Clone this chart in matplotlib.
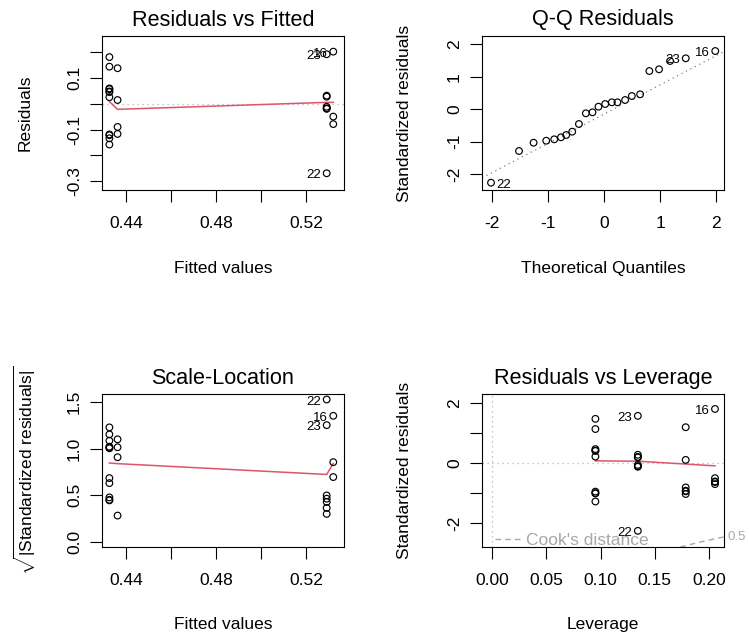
import numpy as np
import matplotlib.pyplot as plt
from matplotlib.transforms import blended_transform_factory

plt.rcParams['font.family'] = ['Liberation Sans', 'DejaVu Sans']
plt.rcParams['mathtext.fontset'] = 'custom'
plt.rcParams['mathtext.rm'] = 'Liberation Sans'
plt.rcParams['mathtext.it'] = 'Liberation Sans:italic'
plt.rcParams['axes.unicode_minus'] = False

# Residuals vs Fitted
rvf_fitted = [0.43258] * 11 + [0.43622] * 4 + [0.5292] * 7 + [0.53213] * 3
rvf_resid = [0.180, 0.143, 0.059, 0.056, 0.047, 0.045, 0.025, -0.119, -0.122, -0.134, -0.158,
             0.137, 0.014, -0.090, -0.117,
             0.191, 0.031, 0.027, -0.012, -0.018, -0.020, -0.269,
             0.201, -0.050, -0.079]
rvf_ids = [''] * 15 + ['23', '', '', '', '', '', '22'] + ['16', '', '']
rvf_smooth_x = [0.43258, 0.43622, 0.5292, 0.53213]
rvf_smooth_y = [0.008, -0.022, 0.005, 0.005]

# Q-Q Residuals
qq_theoretical = [-2.018, -1.518, -1.258, -1.032, -0.889, -0.769, -0.675, -0.568, -0.448,
                  -0.324, -0.206, -0.099, 0.021, 0.140, 0.240, 0.377, 0.497, 0.645,
                  0.810, 0.983, 1.18, 1.46, 1.987]
qq_std = [-2.268, -1.29, -1.035, -0.973, -0.930, -0.868, -0.797, -0.695, -0.458,
          -0.128, -0.097, 0.076, 0.159, 0.211, 0.211, 0.282, 0.405, 0.458,
          1.176, 1.229, 1.485, 1.568, 1.793]
qq_ids = ['22'] + [''] * 20 + ['23', '16']
qq_line_intercept = -0.154
qq_line_slope = 0.902

# Scale-Location
sl_fitted = [0.43258] * 11 + [0.43622] * 4 + [0.5292] * 7 + [0.53213] * 3
sl_root = [1.227, 1.152, 1.084, 1.020, 1.003, 1.010, 0.683, 0.629, 0.476, 0.444, 0.450,
           1.099, 1.014, 0.907, 0.281,
           1.526, 1.251, 0.497, 0.462, 0.427, 0.363, 0.299,
           1.351, 0.854, 0.694]
sl_ids = [''] * 15 + ['22', '23', '', '', '', '', ''] + ['16', '', '']
sl_smooth_x = [0.43258, 0.43622, 0.5292, 0.53213]
sl_smooth_y = [0.845, 0.838, 0.722, 0.84]

# Residuals vs Leverage
rvl_leverage = [0.0953] * 10 + [0.1344] * 8 + [0.1785] * 6 + [0.2055] * 5
rvl_std = [1.48, 1.14, 0.47, 0.42, 0.41, 0.22, -0.95, -1.00, -1.01, -1.28,
           1.58, 0.28, 0.21, 0.19, -0.06, -0.12, -0.10, -2.26,
           1.20, 0.11, -0.81, -0.92, -0.94, -1.03,
           1.81, -0.50, -0.61, -0.63, -0.70]
rvl_ids = [''] * 10 + ['23'] + [''] * 6 + ['22'] + [''] * 6 + ['16'] + [''] * 4
rvl_smooth_x = [0.0953, 0.1344, 0.1785, 0.2055]
rvl_smooth_y = [0.077, 0.065, -0.03, -0.09]
cook_level = 0.5
cook_p = 3.3

W, H = 749, 641
RED = '#DF536B'
LIGHT = '#b4b4b4'
COOK = '#a8a8a8'
FS = 12.5

fig = plt.figure(figsize=(W / 100, H / 100), dpi=100)


def add_panel(left, top, right, bottom):
    return fig.add_axes([left / W, 1 - bottom / H, (right - left) / W, (bottom - top) / H])


def style(ax, title, xlabel, ylabel, xlim, ylim, xticks, xlabels, yticks, ylabels):
    ax.set_xlim(xlim)
    ax.set_ylim(ylim)
    ax.set_xticks(xticks)
    ax.set_xticklabels(xlabels)
    ax.set_yticks(yticks)
    ax.set_yticklabels(ylabels, rotation=90, va='center')
    ax.tick_params(length=8.4, width=0.8, labelsize=FS, direction='out')
    ax.tick_params(axis='x', pad=10)
    ax.tick_params(axis='y', pad=6)
    for s in ax.spines.values():
        s.set_linewidth(0.8)
    ax.text(0.5, 1 + 16 / 154, title, transform=ax.transAxes, ha='center', va='center',
            fontsize=15.6)
    ax.text(0.5, -78.5 / 154, xlabel, transform=ax.transAxes, ha='center', va='center',
            fontsize=FS)
    ax.text(-77 / 242, 0.5, ylabel, transform=ax.transAxes, ha='center', va='center',
            rotation=90, fontsize=FS)


def points(ax, x, y, ids):
    ax.scatter(x, y, s=23, facecolors='none', edgecolors='black', linewidths=0.85, zorder=3)


def label_ids(ax, x, y, ids, side='left'):
    for xi, yi, lab in zip(x, y, ids):
        if not lab:
            continue
        dx = -4 if side == 'left' else 4
        ax.annotate(lab, (xi, yi), xytext=(dx, -1.5), textcoords='offset points',
                    ha='right' if side == 'left' else 'left', va='center',
                    fontsize=9.5, zorder=4)


def dotted(ax, horizontal=True, at=0.0, color=LIGHT):
    if horizontal:
        ax.axhline(at, color=color, lw=0.9, ls=(0, (1, 3)), zorder=1)
    else:
        ax.axvline(at, color=color, lw=0.9, ls=(0, (1, 3)), zorder=1)


# panel 1
ax1 = add_panel(102, 36, 344, 190)
style(ax1, 'Residuals vs Fitted', 'Fitted values', 'Residuals',
      (0.4293, 0.5369), (-0.3337, 0.2615),
      [0.44, 0.46, 0.48, 0.50, 0.52], ['0.44', '', '0.48', '', '0.52'],
      [-0.3, -0.2, -0.1, 0.0, 0.1, 0.2], ['-0.3', '', '-0.1', '', '0.1', ''])
dotted(ax1)
ax1.plot(rvf_smooth_x, rvf_smooth_y, color=RED, lw=1.1, zorder=2)
points(ax1, rvf_fitted, rvf_resid, rvf_ids)
label_ids(ax1, rvf_fitted, rvf_resid, rvf_ids)

# panel 2
ax2 = add_panel(482, 36, 724, 190)
style(ax2, 'Q-Q Residuals', 'Theoretical Quantiles', 'Standardized residuals',
      (-2.179, 2.143), (-2.493, 2.256),
      [-2, -1, 0, 1, 2], ['-2', '-1', '0', '1', '2'],
      [-2, -1, 0, 1, 2], ['-2', '-1', '0', '1', '2'])
ax2.axline((0, qq_line_intercept), slope=qq_line_slope, color='#808080', lw=0.9,
           ls=(0, (1, 3)), zorder=1)
points(ax2, qq_theoretical, qq_std, qq_ids)
label_ids(ax2, qq_theoretical[:1], qq_std[:1], qq_ids[:1], side='right')
label_ids(ax2, qq_theoretical[1:], qq_std[1:], qq_ids[1:])

# panel 3
ax3 = add_panel(102, 394, 344, 547)
style(ax3, 'Scale-Location', 'Fitted values',
      r'$\sqrt{|\mathrm{Standardized\ residuals}|}$',
      (0.4293, 0.5369), (-0.056, 1.585),
      [0.44, 0.46, 0.48, 0.50, 0.52], ['0.44', '', '0.48', '', '0.52'],
      [0.0, 0.5, 1.0, 1.5], ['0.0', '0.5', '1.0', '1.5'])
ax3.plot(sl_smooth_x, sl_smooth_y, color=RED, lw=1.1, zorder=2)
points(ax3, sl_fitted, sl_root, sl_ids)
label_ids(ax3, sl_fitted, sl_root, sl_ids)

# panel 4
ax4 = add_panel(482, 394, 724, 547)
xlim4 = (-0.0092, 0.2138)
style(ax4, 'Residuals vs Leverage', 'Leverage', 'Standardized residuals',
      xlim4, (-2.80, 2.31),
      [0.0, 0.05, 0.10, 0.15, 0.20], ['0.00', '0.05', '0.10', '0.15', '0.20'],
      [-2, -1, 0, 1, 2], ['-2', '', '0', '', '2'])
dotted(ax4)
dotted(ax4, horizontal=False)
ax4.plot(rvl_smooth_x, rvl_smooth_y, color=RED, lw=1.1, zorder=2)
points(ax4, rvl_leverage, rvl_std, rvl_ids)
label_ids(ax4, rvl_leverage, rvl_std, rvl_ids)

# Cook's distance contour
hh = np.linspace(0.01, xlim4[1], 200)
cl = np.sqrt(cook_level * cook_p * (1 - hh) / hh)
for sign in (1, -1):
    ax4.plot(hh, sign * cl, color=COOK, lw=1.0, ls=(0, (4, 3)), zorder=1)
tr = blended_transform_factory(ax4.transAxes, ax4.transData)
y_lab = -np.sqrt(cook_level * cook_p * (1 - xlim4[1]) / xlim4[1])
ax4.text(1.0 + 4 / 242, y_lab, '0.5', transform=tr, ha='left', va='center',
         fontsize=9.5, color=COOK, clip_on=False)
ax4.plot([], [], color=COOK, lw=1.0, ls=(0, (4, 3)), label="Cook's distance")
leg = ax4.legend(loc='lower left', bbox_to_anchor=(13 / 242, -0.005), frameon=False,
                 fontsize=FS, handlelength=1.6, handletextpad=0.2, borderpad=0,
                 borderaxespad=0)
for t in leg.get_texts():
    t.set_color(COOK)

fig.savefig('out.png', dpi=100)
